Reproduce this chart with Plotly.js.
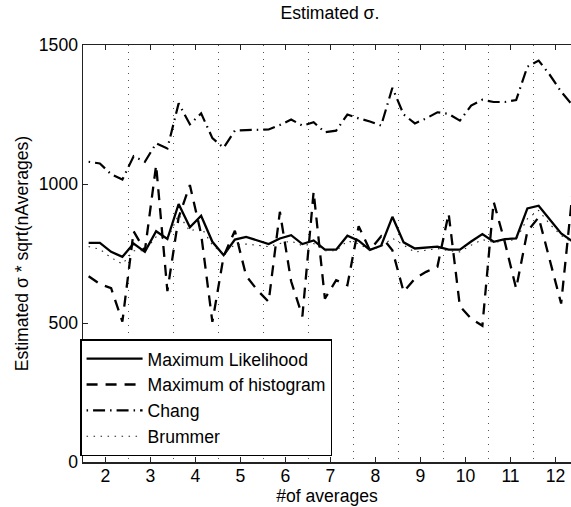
<!DOCTYPE html>
<html>
<head>
<meta charset="utf-8">
<script src="https://cdn.plot.ly/plotly-3.0.1.min.js"></script>
<style>
html,body{margin:0;padding:0;background:#fff;overflow:hidden;}
#chart{width:571px;height:507px;}
</style>
</head>
<body>
<div id="chart"></div>
<script>
// x positions (# of averages)
const xVals = [1.625,1.875,2.125,2.375,2.625,2.875,3.125,3.375,3.625,3.875,4.125,4.375,4.625,4.875,5.125,5.375,5.625,5.875,6.125,6.375,6.625,6.875,7.125,7.375,7.625,7.875,8.125,8.375,8.625,8.875,9.125,9.375,9.625,9.875,10.125,10.375,10.625,10.875,11.125,11.375,11.625,11.875,12.125,12.375];

const maxLikelihood = [788,788,756,738,786,756,830,802,928,844,886,792,744,800,810,798,784,804,816,784,797,764,764,814,796,763,778,882,790,768,772,775,764,764,793,820,792,802,804,912,922,870,822,794];

const maxHistogram = [668,640,625,505,830,760,1068,615,880,996,820,504,740,832,670,618,576,900,650,524,972,588,654,636,848,762,812,762,612,660,684,702,894,560,516,490,936,790,624,830,880,722,570,965];

const chang = [1080,1074,1035,1016,1100,1080,1146,1128,1290,1215,1254,1165,1130,1192,1194,1194,1196,1212,1232,1210,1222,1186,1192,1250,1236,1225,1210,1346,1250,1218,1236,1258,1252,1228,1282,1303,1295,1295,1302,1422,1444,1392,1332,1284];

const brummer = [775,765,735,712,760,760,810,800,890,830,845,780,748,782,784,780,775,786,795,778,786,760,760,795,785,762,775,805,780,755,762,768,760,756,780,800,790,795,800,875,905,855,815,790];

const seriesNames = ["Maximum Likelihood","Maximum of histogram","Chang","Brummer"];
const xTicks = [2,3,4,5,6,7,8,9,10,11,12];
const yTicks = [0,500,1000,1500];
const gridX = [2.5,3.5,4.5,5.5,6.5,7.5,8.5,9.5,10.5,11.5];

const FONT = '"Liberation Sans", Arial, Helvetica, sans-serif';
const FS = 17.6;

const traces = [
  {x:xVals, y:maxLikelihood, name:seriesNames[0], mode:'lines', line:{color:'#000', width:2.3}},
  {x:xVals, y:maxHistogram, name:seriesNames[1], mode:'lines', line:{color:'#000', width:2.3, dash:'11px,8px'}},
  {x:xVals, y:chang, name:seriesNames[2], mode:'lines', line:{color:'#000', width:2.2, dash:'1.5px,5px,12px,5px'}},
  {x:xVals, y:brummer, name:seriesNames[3], mode:'lines', line:{color:'#222', width:1.1, dash:'1.5px,5.5px'}}
];

const layout = {
  width:571, height:507,
  margin:{l:83, r:0, t:45, b:45, pad:0},
  paper_bgcolor:'#fff', plot_bgcolor:'#fff',
  font:{family:FONT, size:FS, color:'#000'},
  title:{text:'Estimated σ.', font:{family:FONT, size:FS, color:'#000'}, xref:'paper', x:0.506, xanchor:'center', y:0.975, yanchor:'middle'},
  showlegend:true,
  legend:{x:-0.006, xanchor:'left', y:0.2945, yanchor:'top', bgcolor:'#fff', bordercolor:'#000', borderwidth:1.5,
          font:{family:FONT, size:FS, color:'#000'}, itemwidth:56, tracegroupgap:0},
  xaxis:{range:[1.5,12.344], tickmode:'array', tickvals:xTicks, ticktext:xTicks.map(String),
         ticks:'inside', ticklen:5, tickwidth:1, tickcolor:'#222',
         showline:true, linecolor:'#222', linewidth:1.5, mirror:'ticks',
         showgrid:false, zeroline:false, ticklabelstandoff:-3,
         minor:{tickmode:'array', tickvals:gridX, showgrid:true, gridcolor:'#555', gridwidth:1, griddash:'1px,6px', ticks:''},
         title:{text:'#of averages', font:{family:FONT, size:FS, color:'#000'}, standoff:4}},
  yaxis:{range:[0,1500], tickmode:'array', tickvals:yTicks, ticktext:yTicks.map(String),
         ticks:'inside', ticklen:5, tickwidth:1, tickcolor:'#222',
         showline:true, linecolor:'#222', linewidth:1.5, mirror:false,
         showgrid:false, zeroline:false, ticklabelstandoff:0,
         title:{text:'Estimated σ * sqrt(nAverages)', font:{family:FONT, size:FS, color:'#000'}, standoff:5}}
};

Plotly.newPlot('chart', traces, layout, {displayModeBar:false, staticPlot:true});
</script>
</body>
</html>
